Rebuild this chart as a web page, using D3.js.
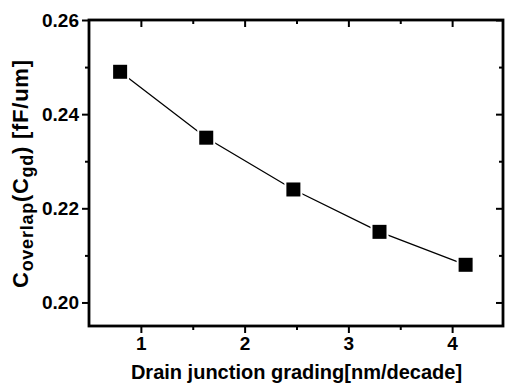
<!DOCTYPE html>
<html>
<head>
<meta charset="utf-8">
<script src="https://cdn.jsdelivr.net/npm/d3@7"></script>
<style>
  body { margin: 0; background: #fff; }
  text { font-family: "Liberation Sans", Arial, sans-serif; font-weight: bold; fill: #000; }
</style>
</head>
<body>
<svg id="chart"></svg>
<script>
// data
const grading = [0.8, 1.63, 2.47, 3.3, 4.13];
const overlapCap = [0.249, 0.235, 0.224, 0.215, 0.208];
const xTicks = [1, 2, 3, 4];
const xMinor = [1.5, 2.5, 3.5];
const yTicks = [0.20, 0.22, 0.24, 0.26];
const yMinor = [0.21, 0.23, 0.25];

const W = 505, H = 385;
const margin = { top: 20, right: 1, bottom: 59, left: 89 };

const svg = d3.select('#chart').attr('width', W).attr('height', H);

const x = d3.scaleLinear().domain([0.5, 4.5]).range([margin.left, W - margin.right]);
const y = d3.scaleLinear().domain([0.195, 0.26]).range([H - margin.bottom, margin.top]);

const fmtY = d3.format('.2f');

// bottom axis (outward ticks)
const gx = svg.append('g').attr('transform', `translate(0,${H - margin.bottom})`);
gx.call(d3.axisBottom(x).tickValues(xTicks).tickSize(7).tickPadding(4).tickFormat(d3.format('d')));
gx.append('g').call(d3.axisBottom(x).tickValues(xMinor).tickSize(4).tickFormat(''));
// top axis (inward ticks)
const gxt = svg.append('g').attr('transform', `translate(0,${margin.top})`);
gxt.call(d3.axisBottom(x).tickValues(xTicks).tickSize(7).tickFormat(''));
gxt.append('g').call(d3.axisBottom(x).tickValues(xMinor).tickSize(4).tickFormat(''));

// left axis (outward)
const gy = svg.append('g').attr('transform', `translate(${margin.left},0)`);
gy.call(d3.axisLeft(y).tickValues(yTicks).tickSize(7).tickPadding(3).tickFormat(fmtY));
gy.append('g').call(d3.axisLeft(y).tickValues(yMinor).tickSize(4).tickFormat(''));
// right axis (inward)
const gyr = svg.append('g').attr('transform', `translate(${W - margin.right - 1},0)`);
gyr.call(d3.axisLeft(y).tickValues(yTicks).tickSize(7).tickFormat(''));
gyr.append('g').call(d3.axisLeft(y).tickValues(yMinor).tickSize(4).tickFormat(''));

svg.selectAll('.domain').remove();
svg.selectAll('.tick line').attr('stroke', '#000').attr('stroke-width', 2);
svg.selectAll('.tick text').style('font-size', '19px').attr('font-family', null).attr('font-size', null);

// frame
svg.append('rect')
  .attr('x', margin.left).attr('y', margin.top)
  .attr('width', W - margin.right - 1 - margin.left)
  .attr('height', H - margin.bottom - margin.top)
  .attr('fill', 'none').attr('stroke', '#000').attr('stroke-width', 2.8);

// line
const pts = grading.map((g, i) => [g, overlapCap[i]]);
svg.append('path')
  .datum(pts)
  .attr('fill', 'none').attr('stroke', '#000').attr('stroke-width', 1.3)
  .attr('d', d3.line().x(d => x(d[0])).y(d => y(d[1])));

// symbols with a small white gap round them
const sym = svg.selectAll('.sym').data(pts).enter().append('g').classed('sym', true)
  .attr('transform', d => `translate(${x(d[0])},${y(d[1])})`);
sym.append('rect').attr('x', -9).attr('y', -9).attr('width', 18).attr('height', 18).attr('fill', '#fff');
sym.append('rect').attr('x', -7).attr('y', -7).attr('width', 14).attr('height', 14).attr('fill', '#000');

// axis titles
svg.append('text')
  .attr('x', (margin.left + W - margin.right) / 2).attr('y', 379)
  .attr('text-anchor', 'middle').style('font-size', '20px')
  .text('Drain junction grading[nm/decade]');

const yt = svg.append('text')
  .attr('transform', 'translate(28,174) rotate(-90)')
  .attr('text-anchor', 'middle').style('font-size', '22px')
  .attr('textLength', 228).attr('lengthAdjust', 'spacing');
yt.append('tspan').text('C');
yt.append('tspan').attr('dy', 5).style('font-size', '18px').text('overlap');
yt.append('tspan').attr('dy', -5).text('(C');
yt.append('tspan').attr('dy', 5).style('font-size', '18px').text('gd');
yt.append('tspan').attr('dy', -5).text(') [fF/um]');
</script>
</body>
</html>
